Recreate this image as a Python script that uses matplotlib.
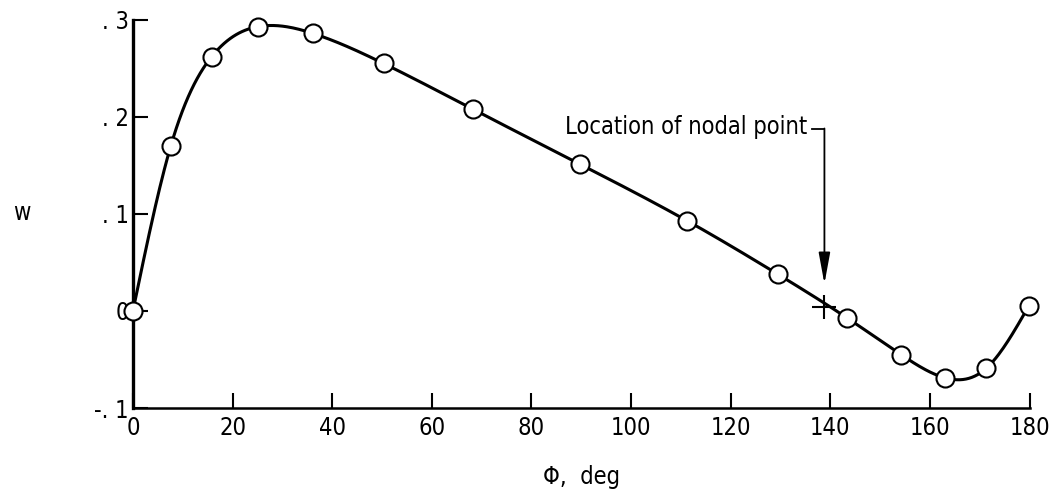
import numpy as np
import matplotlib
matplotlib.use("Agg")
import matplotlib.pyplot as plt

plt.rcParams['font.family'] = ['DejaVu Sans']
plt.rcParams['font.stretch'] = 'condensed'

# measured points (phi in deg, w)
phi = [0.0, 7.6, 15.8, 25.2, 36.1, 50.3, 68.2, 89.8, 111.2, 129.4,
       143.3, 154.2, 163.1, 171.3, 179.8]
w = [0.0, 0.170, 0.262, 0.293, 0.286, 0.255, 0.208, 0.151, 0.093, 0.038,
     -0.007, -0.045, -0.069, -0.059, 0.005]

# nodal point
node_phi = 138.8
node_w = 0.004

xticks = [0, 20, 40, 60, 80, 100, 120, 140, 160, 180]
yticks = [-0.1, 0.0, 0.1, 0.2, 0.3]
ytick_labels = ['-. 1', '0', '. 1', '. 2', '. 3']


def natural_spline(x, y, xs):
    """natural cubic spline, just for drawing the faired curve"""
    x = np.asarray(x, float)
    y = np.asarray(y, float)
    n = len(x)
    h = np.diff(x)
    A = np.zeros((n, n))
    b = np.zeros(n)
    A[0, 0] = 1.0
    A[-1, -1] = 1.0
    for i in range(1, n - 1):
        A[i, i - 1] = h[i - 1]
        A[i, i] = 2 * (h[i - 1] + h[i])
        A[i, i + 1] = h[i]
        b[i] = 6 * ((y[i + 1] - y[i]) / h[i] - (y[i] - y[i - 1]) / h[i - 1])
    M = np.linalg.solve(A, b)
    idx = np.clip(np.searchsorted(x, xs) - 1, 0, n - 2)
    x0, x1 = x[idx], x[idx + 1]
    hh = x1 - x0
    t0 = x1 - xs
    t1 = xs - x0
    return (M[idx] * t0**3 / (6 * hh) + M[idx + 1] * t1**3 / (6 * hh)
            + (y[idx] / hh - M[idx] * hh / 6) * t0
            + (y[idx + 1] / hh - M[idx + 1] * hh / 6) * t1)


fig = plt.figure(figsize=(10.55, 4.94), dpi=100)
ax = fig.add_axes([0.126, 0.174, 0.850, 0.786])

xs = np.linspace(phi[0], phi[-1], 600)
ax.plot(xs, natural_spline(phi, w, xs), color='black', lw=2.2, zorder=2)
ax.plot(phi, w, 'o', ms=13, mfc='white', mec='black', mew=1.5,
        clip_on=False, zorder=3)
ax.plot(node_phi, node_w, '+', ms=17, mec='black', mew=1.5, zorder=4)

# label with bracket and arrow pointing at the node
ax.text(135.3, 0.19, 'Location of nodal point', ha='right', va='center',
        fontsize=17)
ax.plot([136.3, node_phi], [0.187, 0.187], color='black', lw=1.3)
ax.annotate('', xy=(node_phi, 0.028), xytext=(node_phi, 0.188),
            arrowprops=dict(arrowstyle='-|>,head_length=1.9,head_width=0.35',
                            color='black', lw=1.3, shrinkA=0, shrinkB=0))

ax.set_xlim(0, 180)
ax.set_ylim(-0.1, 0.3)
ax.set_xticks(xticks)
ax.set_yticks(yticks)
ax.set_yticklabels(ytick_labels)
for s in ['top', 'right']:
    ax.spines[s].set_visible(False)
ax.spines['left'].set_linewidth(2.4)
ax.spines['bottom'].set_linewidth(1.8)
ax.tick_params(direction='in', length=11, width=1.5, labelsize=17)
ax.tick_params(axis='x', pad=6)
ax.tick_params(axis='y', pad=3)

ax.set_xlabel('Φ,  deg', fontsize=17, labelpad=18)
fig.text(22 / 1055, 1 - 213 / 494, 'w', ha='center', va='center',
         fontsize=17)

fig.savefig('out.png', dpi=100)
